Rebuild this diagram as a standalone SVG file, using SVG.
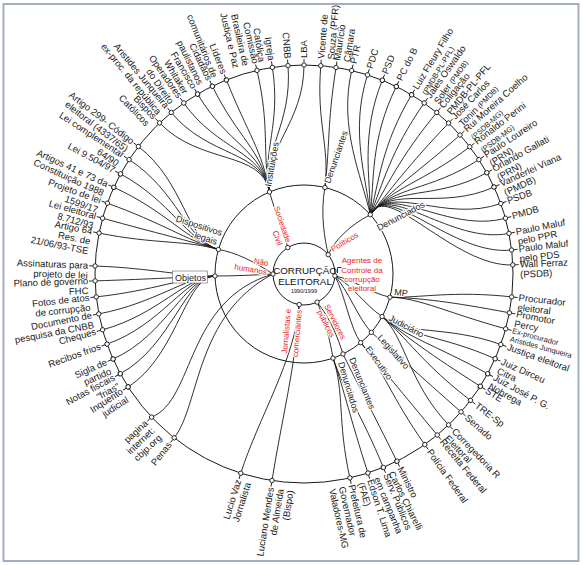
<svg xmlns="http://www.w3.org/2000/svg" width="583" height="565" viewBox="0 0 583 565">
<style>
.ln{fill:none;stroke:#1a1a1a;stroke-width:0.9}
.ring{fill:none;stroke:#1a1a1a;stroke-width:1}
.nd{fill:#fff;stroke:#1a1a1a;stroke-width:0.9}
.t{font-family:"Liberation Sans",Arial,sans-serif;font-size:9.5px;fill:#1a1a1a}
.e{text-anchor:end}
.s{font-size:7.5px}
.h{font-size:9px;paint-order:stroke;stroke:#fff;stroke-width:2.4px;stroke-linejoin:round}
.red{font-family:"Liberation Sans",Arial,sans-serif;font-size:8px;fill:#e8261c;paint-order:stroke;stroke:#fff;stroke-width:2px;stroke-linejoin:round}
.ctr{font-family:"Liberation Sans",Arial,sans-serif;fill:#111;text-anchor:middle}
</style>
<defs>
<g id="nR"><line class="ln" x1="2.2" y1="0" x2="6" y2="0"/><circle class="nd" r="2.2"/></g>
<g id="nL"><line class="ln" x1="-2.2" y1="0" x2="-6" y2="0"/><circle class="nd" r="2.2"/></g>
</defs>
<rect x="0" y="0" width="583" height="565" fill="#fff"/>
<rect x="3.5" y="4" width="575" height="557" fill="#fff" stroke="#a3adc6" stroke-width="2"/>

<g id="rings">
<circle class="ring" cx="304" cy="274" r="209"/>
<circle class="ring" cx="304" cy="274" r="89"/>
<circle class="ring" cx="304" cy="274" r="31"/>
</g>

<g id="connectors" class="ln">
<!-- Instituições -->
<path d="M159.6,122.9 C200,165.2 262,150 269.5,192"/>
<path d="M171.3,112.5 C208.5,157.7 262,150 269.5,192"/>
<path d="M183.8,103 C217.5,150.9 262,150 269.5,192"/>
<path d="M197.6,94.1 C227.4,144.5 262,150 269.5,192"/>
<path d="M212.4,86.2 C238,138.7 262,150 269.5,192"/>
<path d="M226.4,80 C248.1,134.3 262,150 269.5,192"/>
<path d="M257,70.4 C270.1,127.4 262,150 269.5,192"/>
<path d="M272.4,67.4 C281.2,125.2 262,150 269.5,192"/>
<path d="M288,65.6 C292.5,123.9 262,150 269.5,192"/>
<path d="M304,65 C304,123.5 262,150 269.5,192"/>
<!-- Denunciantes (top) -->
<path d="M320.8,65.7 C316.1,124 330,145 324.9,187.5"/>
<path d="M336,67.5 C327,125.3 330,145 324.9,187.5"/>
<!-- Denunciados (top) -->
<path d="M351.7,70.5 C338.4,127.5 361.5,175.8 370.3,214.7"/>
<path d="M367.5,74.9 C349.8,130.6 366.1,177.1 370.3,214.7"/>
<path d="M382.3,80.2 C360.4,134.5 370.3,178.6 370.3,214.7"/>
<path d="M396.3,86.5 C370.4,139 374.3,180.4 370.3,214.7"/>
<path d="M411.6,94.8 C381.5,145 378.8,182.8 370.3,214.7"/>
<path d="M424.2,103 C390.5,150.9 382.4,185.2 370.3,214.7"/>
<path d="M436.7,112.5 C399.5,157.7 386,187.9 370.3,214.7"/>
<path d="M448.6,123.1 C408.2,165.4 389.5,191 370.3,214.7"/>
<path d="M460,135 C416.4,173.9 391,189 370.3,214.7"/>
<path d="M469.8,146.8 C423.4,182.4 392,187 370.3,214.7"/>
<path d="M478.9,159.6 C429.9,191.6 392,186 370.3,214.7"/>
<path d="M486.8,172.7 C435.6,201 392,185 370.3,214.7"/>
<path d="M494,187 C440.8,211.3 391,184 370.3,214.7"/>
<path d="M500.8,203.5 C445.7,223.3 390,183 370.3,214.7"/>
<path d="M505.4,218.2 C449,233.8 389,182 370.3,214.7"/>
<path d="M509,233.4 C451.6,244.8 388,181 370.3,214.7"/>
<path d="M511.6,250 C453.5,256.7 387,180 370.3,214.7"/>
<path d="M512.8,264.9 C454.3,267.4 386,179 370.3,214.7"/>
<!-- MP -->
<path d="M511.7,296.9 C453.6,290.5 420,298 389.9,297.2"/>
<path d="M509.4,312.8 C451.9,301.9 420,298 389.9,297.2"/>
<path d="M505.7,328.8 C449.2,313.5 420,298 389.9,297.2"/>
<!-- Judiciário -->
<path d="M500.8,344.5 C445.7,324.7 405,336 382.1,316.6"/>
<path d="M495.1,358.7 C441.6,335 405,336 382.1,316.6"/>
<path d="M487.7,373.7 C436.3,345.8 405,336 382.1,316.6"/>
<path d="M480.3,386.3 C430.9,354.9 405,336 382.1,316.6"/>
<path d="M470.5,400.4 C423.9,365 405,336 382.1,316.6"/>
<path d="M448.6,424.9 C408.2,382.6 405,336 382.1,316.6"/>
<!-- Legislativo -->
<path d="M461,411.9 C417.1,373.3 398.5,355.8 371.3,332.3"/>
<!-- Executivo -->
<path d="M437.2,435 C399.9,390 383.7,370.3 360.7,342.6"/>
<path d="M424.8,444.6 C391,396.8 383.7,370.3 360.7,342.6"/>
<!-- Denunciantes (bottom) -->
<path d="M396.9,461.2 C370.9,408.8 358.8,386.4 343,354"/>
<!-- Denunciados (bottom) -->
<path d="M383.3,467.4 C361.1,413.2 344.7,392.2 333,358.1"/>
<path d="M367.9,473 C350,417.3 344.7,392.2 333,358.1"/>
<path d="M349.9,477.9 C337.1,420.8 344.7,392.2 333,358.1"/>
<!-- Jornalistas e comerciantes -->
<path d="M240.8,473.2 C258.5,417.5 295,360 299.2,304.6"/>
<path d="M272,480.5 C281,422.7 297,360 299.2,304.6"/>
<!-- Não humanos direct -->
<path d="M174.2,437.8 C200,405 195,315 273,274"/>
<path d="M151.6,417.1 C195,400 185,300 273,274"/>
<!-- Objetos -->
<path d="M95.1,266 C153.6,268.2 185,277 215,276"/>
<path d="M95.1,280.9 C153.6,279 185,277 215,276"/>
<path d="M96.3,296.9 C154.4,290.5 185,277 215,276"/>
<path d="M98.8,313.9 C156.3,302.7 185,277 215,276"/>
<path d="M102.6,329.8 C159,314.2 185,277 215,276"/>
<path d="M107.1,344.1 C162.2,324.5 185,277 215,276"/>
<path d="M113.1,359 C166.5,335.2 185,277 215,276"/>
<path d="M120.3,373.7 C171.7,345.8 185,277 215,276"/>
<path d="M128.1,386.9 C177.4,355.3 185,277 215,276"/>
<!-- Dispositivos legais -->
<path d="M99.1,233.1 C156.4,244.5 186,240 218.4,249.5"/>
<path d="M102.6,218.2 C159,233.8 186,240 218.4,249.5"/>
<path d="M107.4,203.2 C162.4,223 186,240 218.4,249.5"/>
<path d="M113.8,187.3 C167,211.6 186,240 218.4,249.5"/>
<path d="M120.5,173.9 C171.9,202 186,240 218.4,249.5"/>
<path d="M129.1,159.6 C178.1,191.6 186,240 218.4,249.5"/>
<path d="M138.4,146.5 C184.8,182.2 186,240 218.4,249.5"/>
<!-- hubs to inner nodes -->
<path d="M269.5,192 C276,215 283,228 287.8,247.6"/>
<path d="M324.9,187.5 C320,215 325,240 328.2,254.6"/>
<path d="M370.3,214.7 C350,225 335,240 328.2,254.6"/>
<path d="M334.9,275.9 C355,280 370,293 389.9,297.2"/>
<path d="M334.9,275.9 C352,285 365,305 382.1,316.6"/>
<path d="M334.9,275.9 C348,290 358,318 371.3,332.3"/>
<path d="M334.9,275.9 C345,295 350,328 360.7,342.6"/>
<path d="M317.1,302.1 C330,318 338,338 343,354"/>
<path d="M317.1,302.1 C325,320 330,340 333,358.1"/>
<path d="M273,274 C255,262 235,252 218.4,249.5"/>
<path d="M273,274 C255,275 235,276 215,276"/>
<path d="M337.5,273 L337.5,267.5 L341.5,267.5"/>
</g>

<g id="inner-nodes">
<g id="i-sociedade"><circle class="nd" cx="287.8" cy="247.6" r="2.2"/><text class="red e" transform="translate(286,243) rotate(71)">Sociedade<tspan x="0" dy="9">Civil</tspan></text></g>
<g id="i-politicos"><circle class="nd" cx="328.2" cy="254.6" r="2.2"/><text class="red" transform="translate(333,252) rotate(-31)">Políticos</text></g>
<g id="i-agentes"><circle class="nd" cx="334.9" cy="275.9" r="2.2"/><text class="red" text-anchor="middle" x="362" y="263">Agentes de<tspan x="362" dy="9.5">Controle da</tspan><tspan x="362" dy="9">corrupção</tspan><tspan x="362" dy="9.5">eleitoral</tspan></text></g>
<g id="i-servidores"><circle class="nd" cx="317.1" cy="302.1" r="2.2"/><text class="red" transform="translate(324,306) rotate(63)">Servidores<tspan x="2" dy="9">públicos</tspan></text></g>
<g id="i-jornalistas"><circle class="nd" cx="299.2" cy="304.6" r="2.2"/><text class="red e" transform="translate(291,309) rotate(-85)">Jornalistas e<tspan x="0" dy="11">comerciantes</tspan></text></g>
<g id="i-naohumanos"><circle class="nd" cx="273" cy="274" r="2.2"/><text class="red e" transform="translate(268,266) rotate(10)">Não<tspan x="0" dy="9">humanos</tspan></text></g>
</g>

<g id="center">
<text class="ctr" x="305" y="274" font-size="9.8">CORRUPÇÃO</text>
<text class="ctr" x="305" y="284.5" font-size="9.8">ELEITORAL</text>
<text class="ctr" x="304" y="292.5" font-size="5.5">1990/1999</text>
</g>

<g id="hubs">
<g id="h-instituicoes"><circle class="nd" cx="269.5" cy="192" r="2.2"/><text class="t h" transform="translate(271,187) rotate(-80)">Instituições</text></g>
<g id="h-denunciantes-top"><circle class="nd" cx="324.9" cy="187.5" r="2.2"/><text class="t h" transform="translate(330,184) rotate(-71)">Denunciantes</text></g>
<g id="h-denunciados-top"><circle class="nd" cx="370.3" cy="214.7" r="2.2"/><text class="t h" transform="translate(379,231) rotate(-28)">Denunciados</text></g>
<g id="h-mp"><circle class="nd" cx="389.9" cy="297.2" r="2.2"/><text class="t h" transform="translate(394,295) rotate(6)">MP</text></g>
<g id="h-judiciario"><circle class="nd" cx="382.1" cy="316.6" r="2.2"/><text class="t h" transform="translate(388,320) rotate(28)">Judiciário</text></g>
<g id="h-legislativo"><circle class="nd" cx="371.3" cy="332.3" r="2.2"/><text class="t h" transform="translate(377,338) rotate(48)">Legislativo</text></g>
<g id="h-executivo"><circle class="nd" cx="360.7" cy="342.6" r="2.2"/><text class="t h" transform="translate(365,349) rotate(54)">Executivo</text></g>
<g id="h-denunciantes-bot"><circle class="nd" cx="343" cy="354" r="2.2"/><text class="t h" transform="translate(349,359) rotate(68)">Denunciantes</text></g>
<g id="h-denunciados-bot"><circle class="nd" cx="333" cy="358.1" r="2.2"/><text class="t h" transform="translate(338,363) rotate(73)">Denunciados</text></g>
<g id="h-dispositivos"><circle class="nd" cx="218.4" cy="249.5" r="2.2"/><text class="t h e" transform="translate(221,236) rotate(18)">Dispositivos<tspan x="-2" dy="10">legais</tspan></text></g>
<g id="h-objetos"><circle class="nd" cx="215" cy="276" r="2.2"/><rect x="172.5" y="271" width="35" height="12" fill="#fff" stroke="#444" stroke-width="0.5"/><text class="t h" x="175" y="280.5">Objetos</text></g>
</g>

<g id="leaves">
<g id="l-comissao" transform="translate(257,70.4) rotate(77)"><use href="#nL"/><text class="t e" x="-7" y="3">Comissão<tspan x="-7" dy="10">Brasileira de</tspan><tspan x="-7" dy="10">Justiça e Paz</tspan></text></g>
<g id="l-igreja" transform="translate(272.4,67.4) rotate(81.3)"><use href="#nL"/><text class="t e" x="-7" y="3">Igreja<tspan x="-7" dy="10">Católica</tspan></text></g>
<g id="l-cnbb" transform="translate(288,65.6) rotate(85.6)"><use href="#nL"/><text class="t e" x="-7" y="3">CNBB</text></g>
<g id="l-lba" transform="translate(304,65) rotate(-90)"><use href="#nR"/><text class="t" x="7" y="3">LBA</text></g>
<g id="l-vicente" transform="translate(320.8,65.7) rotate(-85.4)"><use href="#nR"/><text class="t" x="7" y="3">Vicente de<tspan x="7" dy="10">Souza (PFR)</tspan></text></g>
<g id="l-mauricio" transform="translate(336,67.5) rotate(-81.2)"><use href="#nR"/><text class="t" x="7" y="3">Maurício<tspan x="7" dy="10">Câmara</tspan></text></g>
<g id="l-ptr" transform="translate(351.7,70.5) rotate(-76.8)"><use href="#nR"/><text class="t" x="7" y="3">PTR</text></g>
<g id="l-pdc" transform="translate(367.5,74.9) rotate(-72.3)"><use href="#nR"/><text class="t" x="7" y="3">PDC</text></g>
<g id="l-psd" transform="translate(382.3,80.2) rotate(-68)"><use href="#nR"/><text class="t" x="7" y="3">PSD</text></g>
<g id="l-pcdob" transform="translate(396.3,86.5) rotate(-63.8)"><use href="#nR"/><text class="t" x="7" y="3">PC do B</text></g>
<g id="l-fleury" transform="translate(411.6,94.8) rotate(-59)"><use href="#nR"/><text class="t" x="7" y="3">Luiz Fleury Filho<tspan class="s" x="7" dy="10">(PMDB-PL-PFL)</tspan></text></g>
<g id="l-jales" transform="translate(424.2,103) rotate(-54.9)"><use href="#nR"/><text class="t" x="7" y="3">Jales Oswaldo<tspan x="7" dy="10">Soler <tspan class="s">(PMDB)</tspan></tspan></text></g>
<g id="l-coligacao" transform="translate(436.7,112.5) rotate(-50.6)"><use href="#nR"/><text class="t" x="7" y="3">Coligação<tspan x="7" dy="10">PMDB-PL-PFL</tspan></text></g>
<g id="l-josecarlos" transform="translate(448.6,123.1) rotate(-46.2)"><use href="#nR"/><text class="t" x="7" y="3">José Carlos<tspan x="7" dy="10">Tonin <tspan class="s">(PMDB)</tspan></tspan></text></g>
<g id="l-rui" transform="translate(460,135) rotate(-41.7)"><use href="#nR"/><text class="t" x="7" y="3">Rui Moreira Coelho<tspan class="s" x="7" dy="10">(PSDB-MG)</tspan></text></g>
<g id="l-ronaldo" transform="translate(469.8,146.8) rotate(-37.5)"><use href="#nR"/><text class="t" x="7" y="3">Ronaldo Perini<tspan class="s" x="7" dy="10">(PSDB-MG)</tspan></text></g>
<g id="l-loureiro" transform="translate(478.9,159.6) rotate(-33.2)"><use href="#nR"/><text class="t" x="7" y="3">Paulo Loureiro<tspan x="7" dy="10">(PRN)</tspan></text></g>
<g id="l-gallati" transform="translate(486.8,172.7) rotate(-29)"><use href="#nR"/><text class="t" x="7" y="3">Orlando Gallati<tspan x="7" dy="10">(PRN)</tspan></text></g>
<g id="l-vanderlei" transform="translate(494,187) rotate(-24.6)"><use href="#nR"/><text class="t" x="7" y="3">Vanderlei Viana<tspan x="7" dy="10">(PMDB)</tspan></text></g>
<g id="l-psdb" transform="translate(500.8,203.5) rotate(-19.7)"><use href="#nR"/><text class="t" x="7" y="3">PSDB</text></g>
<g id="l-pmdb" transform="translate(505.4,218.2) rotate(-15.5)"><use href="#nR"/><text class="t" x="7" y="3">PMDB</text></g>
<g id="l-maluf-ppr" transform="translate(509,233.4) rotate(-11.2)"><use href="#nR"/><text class="t" x="7" y="3">Paulo Maluf<tspan x="7" dy="10">pelo PPR</tspan></text></g>
<g id="l-maluf-pds" transform="translate(511.6,250) rotate(-6.6)"><use href="#nR"/><text class="t" x="7" y="3">Paulo Maluf<tspan x="7" dy="10">pelo PDS</tspan></text></g>
<g id="l-wall" transform="translate(512.8,264.9) rotate(-2.5)"><use href="#nR"/><text class="t" x="7" y="3">Wall Ferraz<tspan x="7" dy="10">(PSDB)</tspan></text></g>
<g id="l-procurador" transform="translate(511.7,296.9) rotate(6.3)"><use href="#nR"/><text class="t" x="7" y="3">Procurador<tspan x="7" dy="10">eleitoral</tspan></text></g>
<g id="l-promotor" transform="translate(509.4,312.8) rotate(10.7)"><use href="#nR"/><text class="t" x="7" y="3">Promotor<tspan x="7" dy="10">Percy</tspan></text></g>
<g id="l-exproc" transform="translate(505.7,328.8) rotate(15.2)"><use href="#nR"/><text class="t s" x="7" y="2.5">Ex-procurador<tspan x="7" dy="8.5">Aristides Junqueira</tspan></text></g>
<g id="l-justica" transform="translate(500.8,344.5) rotate(19.7)"><use href="#nR"/><text class="t" x="7" y="3">Justiça eleitoral</text></g>
<g id="l-dirceu" transform="translate(495.1,358.7) rotate(23.9)"><use href="#nR"/><text class="t" x="7" y="3">Juiz Dirceu<tspan x="7" dy="10">Citra</tspan></text></g>
<g id="l-josepg" transform="translate(487.7,373.7) rotate(28.5)"><use href="#nR"/><text class="t" x="7" y="3">Juiz José P. G.<tspan x="7" dy="10">Nobrega</tspan></text></g>
<g id="l-ste" transform="translate(480.3,386.3) rotate(32.5)"><use href="#nR"/><text class="t" x="7" y="3">STE</text></g>
<g id="l-tre" transform="translate(470.5,400.4) rotate(37.2)"><use href="#nR"/><text class="t" x="7" y="3">TRE-Sp</text></g>
<g id="l-senado" transform="translate(461,411.9) rotate(41.3)"><use href="#nR"/><text class="t" x="7" y="3">Senado</text></g>
<g id="l-corregedoria" transform="translate(448.6,424.9) rotate(46.2)"><use href="#nR"/><text class="t" x="7" y="3">Corregedoria R<tspan x="7" dy="10">Eleitoral</tspan></text></g>
<g id="l-receita" transform="translate(437.2,435) rotate(50.4)"><use href="#nR"/><text class="t" x="7" y="3">Receita Federal</text></g>
<g id="l-policia" transform="translate(424.8,444.6) rotate(54.7)"><use href="#nR"/><text class="t" x="7" y="3">Polícia Federal</text></g>
<g id="l-ministro" transform="translate(396.9,461.2) rotate(63.6)"><use href="#nR"/><text class="t" x="7" y="3">Ministro<tspan x="7" dy="10">Carlos Chiarelli</tspan></text></g>
<g id="l-serv" transform="translate(383.3,467.4) rotate(67.7)"><use href="#nR"/><text class="t" x="7" y="3">Serv. Públicos<tspan x="7" dy="10">em campanha</tspan></text></g>
<g id="l-edson" transform="translate(367.9,473) rotate(72.2)"><use href="#nR"/><text class="t" x="7" y="3">Edson T. Lima<tspan x="7" dy="10">(FAE)</tspan></text></g>
<g id="l-prefeitura" transform="translate(349.9,477.9) rotate(77.3)"><use href="#nR"/><text class="t" x="7" y="3">Prefeitura de<tspan x="7" dy="10">Governador</tspan><tspan x="7" dy="10">Valadores-MG</tspan></text></g>
<g id="l-luciano" transform="translate(272,480.5) rotate(-81.2)"><use href="#nL"/><text class="t e" x="-7" y="3">Luciano Mendes<tspan x="-7" dy="10">de Almeida</tspan><tspan x="-7" dy="10">(Bispo)</tspan></text></g>
<g id="l-lucio" transform="translate(240.8,473.2) rotate(-72.4)"><use href="#nL"/><text class="t e" x="-7" y="3">Lucio Vaz<tspan x="-7" dy="10">Jornalista</tspan></text></g>
<g id="l-penas" transform="translate(174.2,437.8) rotate(-51.6)"><use href="#nL"/><text class="t e" x="-7" y="3">Penas</text></g>
<g id="l-pagina" transform="translate(151.6,417.1) rotate(-43.2)"><use href="#nL"/><text class="t e" x="-7" y="3">pagina<tspan x="-7" dy="10">internet:</tspan><tspan x="-7" dy="10">cbjp.org</tspan></text></g>
<g id="l-inquerito" transform="translate(128.1,386.9) rotate(-32.7)"><use href="#nL"/><text class="t e" x="-7" y="3">Inquerito<tspan x="-7" dy="10">judicial</tspan></text></g>
<g id="l-notas" transform="translate(120.3,373.7) rotate(-28.5)"><use href="#nL"/><text class="t e" x="-7" y="3">Notas fiscais<tspan x="-7" dy="10">&quot;frias&quot;</tspan></text></g>
<g id="l-sigla" transform="translate(113.1,359) rotate(-24)"><use href="#nL"/><text class="t e" x="-7" y="3">Sigla de<tspan x="-7" dy="10">partido</tspan></text></g>
<g id="l-recibos" transform="translate(107.1,344.1) rotate(-19.6)"><use href="#nL"/><text class="t e" x="-7" y="3">Recibos frios</text></g>
<g id="l-cheques" transform="translate(102.6,329.8) rotate(-15.5)"><use href="#nL"/><text class="t e" x="-7" y="3">Cheques</text></g>
<g id="l-documento" transform="translate(98.8,313.9) rotate(-11)"><use href="#nL"/><text class="t e" x="-7" y="3">Documento de<tspan x="-7" dy="10">pesquisa da CNBB</tspan></text></g>
<g id="l-fotos" transform="translate(96.3,296.9) rotate(-6.3)"><use href="#nL"/><text class="t e" x="-7" y="3">Fotos de atos<tspan x="-7" dy="10">de corrupção</tspan></text></g>
<g id="l-plano" transform="translate(95.1,280.9) rotate(-1.9)"><use href="#nL"/><text class="t e" x="-7" y="3">Plano de governo<tspan x="-7" dy="10">FHC</tspan></text></g>
<g id="l-assinaturas" transform="translate(95.1,266) rotate(2.2)"><use href="#nL"/><text class="t e" x="-7" y="3">Assinaturas para<tspan x="-7" dy="10">projeto de lei</tspan></text></g>
<g id="l-artigo64" transform="translate(99.1,233.1) rotate(11.3)"><use href="#nL"/><text class="t e" x="-7" y="3">Artigo 64<tspan x="-7" dy="10">Res. de</tspan><tspan x="-7" dy="10">21/06/93-TSE</tspan></text></g>
<g id="l-leieleitoral" transform="translate(102.6,218.2) rotate(15.5)"><use href="#nL"/><text class="t e" x="-7" y="3">Lei eleitoral<tspan x="-7" dy="10">8.712/93</tspan></text></g>
<g id="l-projeto" transform="translate(107.4,203.2) rotate(19.8)"><use href="#nL"/><text class="t e" x="-7" y="3">Projeto de lei<tspan x="-7" dy="10">1599/17</tspan></text></g>
<g id="l-artigos41" transform="translate(113.8,187.3) rotate(24.5)"><use href="#nL"/><text class="t e" x="-7" y="3">Artigos 41 e 73 da<tspan x="-7" dy="10">Constituição 1988</tspan></text></g>
<g id="l-lei9504" transform="translate(120.5,173.9) rotate(28.6)"><use href="#nL"/><text class="t e" x="-7" y="3">Lei 9.504/97</text></g>
<g id="l-leicomp" transform="translate(129.1,159.6) rotate(33.2)"><use href="#nL"/><text class="t e" x="-7" y="3">Lei complementar<tspan x="-7" dy="10">64/90</tspan></text></g>
<g id="l-artigo299" transform="translate(138.4,146.5) rotate(37.6)"><use href="#nL"/><text class="t e" x="-7" y="3">Artigo 299- Código<tspan x="-7" dy="10">eleitoral (4337/65)</tspan></text></g>
<g id="l-bispos" transform="translate(159.6,122.9) rotate(46.3)"><use href="#nL"/><text class="t e" x="-7" y="3">Bispos<tspan x="-7" dy="10">Católicos</tspan></text></g>
<g id="l-aristides" transform="translate(171.3,112.5) rotate(50.6)"><use href="#nL"/><text class="t e" x="-7" y="3">Aristides Junqueira<tspan x="-7" dy="10">ex-proc. da república</tspan></text></g>
<g id="l-operadores" transform="translate(183.8,103) rotate(54.9)"><use href="#nL"/><text class="t e" x="-7" y="3">Operadores<tspan x="-7" dy="10">do Direito</tspan></text></g>
<g id="l-francisco" transform="translate(197.6,94.1) rotate(59.4)"><use href="#nL"/><text class="t e" x="-7" y="3">Francisco<tspan x="-7" dy="10">Whitaker</tspan></text></g>
<g id="l-cidadaos" transform="translate(212.4,86.2) rotate(64)"><use href="#nL"/><text class="t e" x="-7" y="3">Cidadãos<tspan x="-7" dy="10">paulistanos</tspan></text></g>
<g id="l-lideres" transform="translate(226.4,80) rotate(68.2)"><use href="#nL"/><text class="t e" x="-7" y="3">Líderes<tspan x="-7" dy="10">comunitários de</tspan></text></g>
</g>
</svg>
